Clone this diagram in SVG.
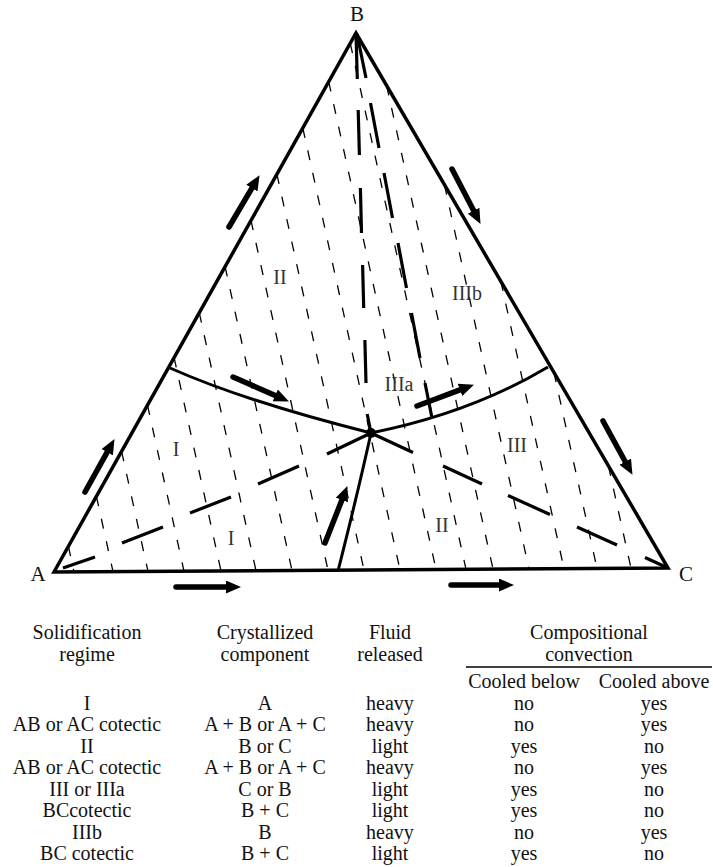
<svg xmlns="http://www.w3.org/2000/svg" width="713" height="867" viewBox="0 0 713 867">
<style>
  text { font-family: "Liberation Serif", "Times New Roman", serif; fill: #111; }
  .lbl { font-size: 21px; }
  .reg { font-size: 20px; fill: #333; text-anchor: middle; }
  .tb { font-size: 20px; text-anchor: middle; }
  .edge { fill: none; stroke: #000; stroke-width: 3.5; stroke-linejoin: miter; }
  .bnd { fill: none; stroke: #000; stroke-width: 3; }
  .tie { fill: none; stroke: #000; stroke-width: 1.3; stroke-dasharray: 10 13; }
  .hd { fill: none; stroke: #000; stroke-width: 3.2; }
  .arr { fill: none; stroke: #000; stroke-width: 5.5; stroke-linecap: round; marker-end: url(#ah); }
</style>
<defs>
  <marker id="ah" viewBox="0 0 15 13" refX="0" refY="6.5" markerWidth="15" markerHeight="13" markerUnits="userSpaceOnUse" orient="auto">
    <path d="M0,0 L15,6.5 L0,13 z" fill="#000"/>
  </marker>
</defs>
<rect width="713" height="867" fill="#fff"/>

<g id="tie-lines">
  <path class="tie" d="M68.4,546.4 L74,571.9"/>
  <path class="tie" d="M96.4,496.3 L113,571.6"/>
  <path class="tie" d="M121.6,451.4 L148,571.4"/>
  <path class="tie" d="M147.5,405.1 L184,571.2"/>
  <path class="tie" d="M174.1,357.7 L221,570.9"/>
  <path class="tie" d="M199.3,312.8 L256,570.7"/>
  <path class="tie" d="M225.1,266.6 L292,570.5"/>
  <path class="tie" d="M251,220.3 L328,570.2"/>
  <path class="tie" d="M276.9,174.2 L364,570"/>
  <path class="tie" d="M302.8,128 L400,569.8"/>
  <path class="tie" d="M328.7,81.7 L436,569.5"/>
  <path class="tie" d="M350.3,43.3 L466,569.3"/>
  <path class="tie" d="M386.6,85.5 L493,569.1"/>
  <path class="tie" d="M444.5,184.9 L529,568.9"/>
  <path class="tie" d="M500.8,281.2 L564,568.7"/>
  <path class="tie" d="M553.9,372.4 L597,568.4"/>
  <path class="tie" d="M608.5,466.1 L631,568.2"/>
</g>

<g id="triangle">
  <path class="edge" d="M54,572 L356,33 L668,568 Z"/>
</g>

<g id="connectors">
  <path class="bnd" d="M170,368 Q244,401 371,433"/>
  <path class="bnd" d="M371,433 Q471,413 548,367"/>
  <path class="bnd" d="M371,433 Q358,492 338,571"/>
  <path class="hd" d="M63,568 L95,557 M122,543 L163,527 M190,513 L231,497 M258,484 L299,466 M327,454 L371,433"/>
  <path class="hd" d="M371,433 L413,452.5 M443,466 L482,484 M508,495.5 L550,514.5 M577,527 L617,545 M645,557.5 L668,568"/>
  <path class="hd" d="M356,34 L357.3,79 M358.2,110 L359.4,155 M360.4,188 L361.5,233 M362.6,265 L363.7,308 M364.9,340 L366,383 M367.2,414 L371,433"/>
  <path class="hd" d="M357,34 L366,78 M370.5,103 L379,148 M384,173 L392.5,218 M398,243 L406.5,288 M411.5,313 L420,358 M425,383 L432,418"/>
  <circle cx="371" cy="433" r="5" fill="#000"/>
</g>

<g id="arrows">
  <path class="arr" d="M85,492 L107.2,452.2"/>
  <path class="arr" d="M229,227 L251.9,188.1"/>
  <path class="arr" d="M452,169 L473.6,210.6"/>
  <path class="arr" d="M603,421 L625.3,461.7"/>
  <path class="arr" d="M176,587 L226,587"/>
  <path class="arr" d="M451,585 L499,585"/>
  <path class="arr" d="M233,377 L275.2,395.4"/>
  <path class="arr" d="M325,543 L341.9,500"/>
  <path class="arr" d="M417,406 L459.9,389.9"/>
</g>

<g id="vertex-labels">
  <text class="lbl" x="357" y="21" text-anchor="middle">B</text>
  <text class="lbl" x="38" y="581" text-anchor="middle">A</text>
  <text class="lbl" x="686" y="581" text-anchor="middle">C</text>
</g>

<g id="region-labels">
  <text class="reg" x="280" y="284">II</text>
  <text class="reg" x="467" y="300">IIIb</text>
  <text class="reg" x="399" y="391">IIIa</text>
  <text class="reg" x="176" y="456">I</text>
  <text class="reg" x="231" y="545">I</text>
  <text class="reg" x="517" y="452">III</text>
  <text class="reg" x="442" y="532">II</text>
</g>

<g id="table">
  <text class="tb" x="87" y="639">Solidification</text>
  <text class="tb" x="87" y="661">regime</text>
  <text class="tb" x="265" y="639">Crystallized</text>
  <text class="tb" x="265" y="661">component</text>
  <text class="tb" x="390" y="639">Fluid</text>
  <text class="tb" x="390" y="661">released</text>
  <text class="tb" x="589" y="639">Compositional</text>
  <text class="tb" x="589" y="661">convection</text>
  <line x1="466" y1="667" x2="712" y2="667" stroke="#000" stroke-width="1.5"/>
  <text class="tb" x="524" y="688">Cooled below</text>
  <text class="tb" x="654" y="688">Cooled above</text>

  <g id="row1"><text class="tb" x="87" y="709.5">I</text><text class="tb" x="265" y="709.5">A</text><text class="tb" x="390" y="709.5">heavy</text><text class="tb" x="524" y="709.5">no</text><text class="tb" x="654" y="709.5">yes</text></g>
  <g id="row2"><text class="tb" x="87" y="731">AB or AC cotectic</text><text class="tb" x="265" y="731">A + B or A + C</text><text class="tb" x="390" y="731">heavy</text><text class="tb" x="524" y="731">no</text><text class="tb" x="654" y="731">yes</text></g>
  <g id="row3"><text class="tb" x="87" y="752.5">II</text><text class="tb" x="265" y="752.5">B or C</text><text class="tb" x="390" y="752.5">light</text><text class="tb" x="524" y="752.5">yes</text><text class="tb" x="654" y="752.5">no</text></g>
  <g id="row4"><text class="tb" x="87" y="774">AB or AC cotectic</text><text class="tb" x="265" y="774">A + B or A + C</text><text class="tb" x="390" y="774">heavy</text><text class="tb" x="524" y="774">no</text><text class="tb" x="654" y="774">yes</text></g>
  <g id="row5"><text class="tb" x="87" y="795.5">III or IIIa</text><text class="tb" x="265" y="795.5">C or B</text><text class="tb" x="390" y="795.5">light</text><text class="tb" x="524" y="795.5">yes</text><text class="tb" x="654" y="795.5">no</text></g>
  <g id="row6"><text class="tb" x="87" y="817">BCcotectic</text><text class="tb" x="265" y="817">B + C</text><text class="tb" x="390" y="817">light</text><text class="tb" x="524" y="817">yes</text><text class="tb" x="654" y="817">no</text></g>
  <g id="row7"><text class="tb" x="87" y="838.5">IIIb</text><text class="tb" x="265" y="838.5">B</text><text class="tb" x="390" y="838.5">heavy</text><text class="tb" x="524" y="838.5">no</text><text class="tb" x="654" y="838.5">yes</text></g>
  <g id="row8"><text class="tb" x="87" y="860">BC cotectic</text><text class="tb" x="265" y="860">B + C</text><text class="tb" x="390" y="860">light</text><text class="tb" x="524" y="860">yes</text><text class="tb" x="654" y="860">no</text></g>
</g>
</svg>
